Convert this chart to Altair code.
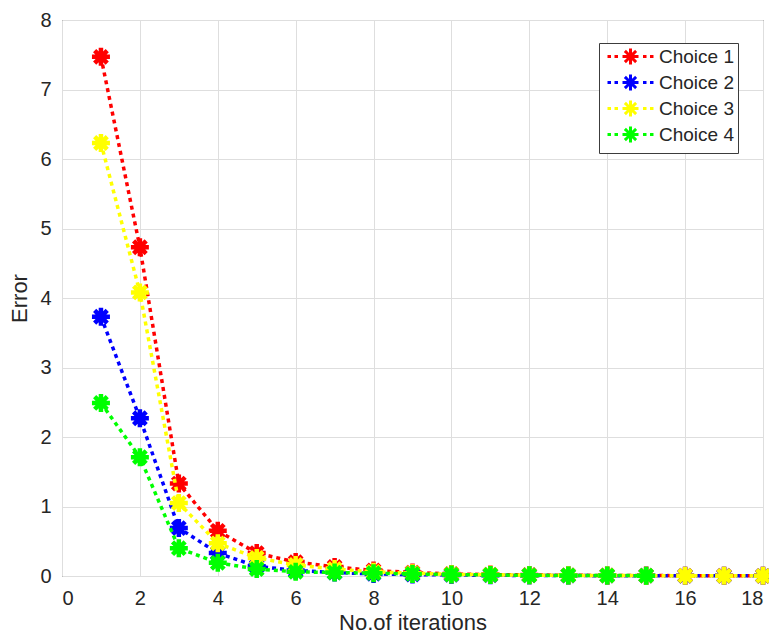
import altair as alt
import pandas as pd

iterations = list(range(1, 19))
choice1 = [7.47, 4.73, 1.33, 0.65, 0.33, 0.20, 0.13, 0.08, 0.05, 0.03, 0.02, 0.015, 0.01, 0.008, 0.006, 0.005, 0.004, 0.003]
choice2 = [3.73, 2.27, 0.69, 0.33, 0.14, 0.08, 0.05, 0.03, 0.02, 0.015, 0.01, 0.008, 0.006, 0.005, 0.004, 0.003, 0.002, 0.002]
choice3 = [6.23, 4.08, 1.05, 0.47, 0.26, 0.16, 0.10, 0.06, 0.04, 0.025, 0.018, 0.012, 0.009, 0.007, 0.005, 0.004, 0.003, 0.002]
choice4 = [2.49, 1.71, 0.40, 0.19, 0.10, 0.06, 0.05, 0.04, 0.03, 0.02, 0.015, 0.01, 0.008, 0.006, 0.005]

series_names = ["Choice 1", "Choice 2", "Choice 3", "Choice 4"]
series_colors = ["#ff0000", "#0000ff", "#ffff00", "#00ff00"]
series_values = [choice1, choice2, choice3, choice4]

rows = []
for name, vals in zip(series_names, series_values):
    for it, v in zip(iterations, vals):
        rows.append({"iter": it, "err": v, "series": name})
df = pd.DataFrame(rows)

ASTERISK = "M-1,0L1,0M0,-1L0,1M-0.7,-0.7L0.7,0.7M-0.7,0.7L0.7,-0.7"
LEGEND_SYM = ("M-2.875,0L-2.44,0M-2,0L-1.56,0M1.56,0L2,0M2.44,0L2.875,0"
              "M-1,0L1,0M0,-1L0,1M-0.7,-0.7L0.7,0.7M-0.7,0.7L0.7,-0.7")

FONT = "Liberation Sans"
TXT = "#262626"

x_enc = alt.X("iter:Q", scale=alt.Scale(domain=[0, 18], nice=False),
              axis=alt.Axis(values=list(range(0, 19, 2)), title="No.of iterations",
                            titlePadding=4))
y_enc = alt.Y("err:Q", scale=alt.Scale(domain=[0, 8], nice=False),
              axis=alt.Axis(values=list(range(0, 9)), title="Error", titlePadding=8))
color_enc = alt.Color(
    "series:N",
    scale=alt.Scale(domain=series_names, range=series_colors),
    legend=alt.Legend(
        title=None, orient="none", legendX=537, legendY=23,
        symbolType=LEGEND_SYM, symbolSize=256, symbolStrokeWidth=3,
        symbolDash=[1, 0], symbolOffset=18, labelOffset=19, rowPadding=-3,
        labelFont=FONT, labelFontSize=19, labelColor=TXT,
        fillColor="white", strokeColor="#3c3c3c", padding=4,
    ),
)

base = alt.Chart(df)
layers = []
for name in series_names:
    sub = base.transform_filter(alt.datum.series == name)
    layers.append(sub.mark_line(strokeWidth=3.5, strokeDash=[4, 4]).encode(
        x=x_enc, y=y_enc, color=color_enc))
    layers.append(sub.mark_point(shape=ASTERISK, size=324, filled=False,
                                 strokeWidth=4.5, opacity=1).encode(
        x=x_enc, y=y_enc, color=color_enc))

chart = alt.layer(*layers).properties(
    width=701, height=556,
    autosize=alt.AutoSizeParams(type="none"),
    padding={"left": 54, "top": 12, "right": 6, "bottom": 57},
).configure_view(
    stroke=TXT, strokeWidth=1
).configure_axis(
    domain=False, ticks=False, grid=True, gridColor="#dedede", gridWidth=1,
    labelFont=FONT, labelFontSize=20, labelColor=TXT, labelPadding=11,
    titleFont=FONT, titleFontSize=22, titleColor=TXT, titleFontWeight="normal",
).configure_axisX(labelPadding=12)

chart.save("out.html", embed_options={"renderer": "svg", "actions": False})
